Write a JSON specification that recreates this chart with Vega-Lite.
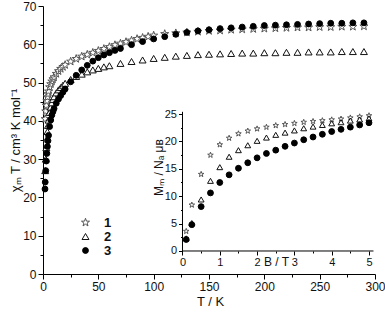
{
  "$schema": "https://vega.github.io/schema/vega-lite/v6.json",
  "width": 332,
  "height": 268,
  "autosize": {"type": "none"},
  "padding": {"left": 43, "top": 6, "right": 10, "bottom": 40},
  "config": {
    "view": {"stroke": null},
    "font": "Liberation Sans",
    "axis": {
      "grid": false,
      "domainColor": "#000",
      "tickColor": "#000",
      "labelColor": "#111",
      "titleColor": "#111",
      "labelFont": "Liberation Sans",
      "titleFont": "Liberation Sans",
      "titleFontWeight": "normal",
      "labelFlush": false,
      "labelOverlap": false
    }
  },
  "datasets": {
    "chidata": [
      {"s":"1","T":2,"v":40.5},{"s":"1","T":2.5,"v":42.5},{"s":"1","T":3,"v":44},{"s":"1","T":3.5,"v":45.2},{"s":"1","T":4,"v":46.2},{"s":"1","T":4.5,"v":47},{"s":"1","T":5,"v":47.7},{"s":"1","T":6,"v":48.8},{"s":"1","T":7,"v":49.6},{"s":"1","T":8,"v":50.3},{"s":"1","T":9,"v":50.9},{"s":"1","T":10,"v":51.4},{"s":"1","T":12,"v":52.3},{"s":"1","T":14,"v":53},{"s":"1","T":16,"v":53.6},{"s":"1","T":18,"v":54.1},{"s":"1","T":20,"v":54.6},{"s":"1","T":25,"v":55.5},{"s":"1","T":30,"v":56.2},{"s":"1","T":35,"v":56.8},{"s":"1","T":40,"v":57.3},{"s":"1","T":45,"v":57.8},{"s":"1","T":50,"v":58.3},{"s":"1","T":55,"v":58.8},{"s":"1","T":60,"v":59.3},{"s":"1","T":65,"v":59.8},{"s":"1","T":70,"v":60.2},{"s":"1","T":75,"v":60.6},{"s":"1","T":80,"v":61.0},{"s":"1","T":85,"v":61.4},{"s":"1","T":90,"v":61.7},{"s":"1","T":95,"v":62.0},{"s":"1","T":100,"v":62.3},{"s":"1","T":110,"v":62.7},{"s":"1","T":120,"v":62.9},{"s":"1","T":130,"v":63.1},{"s":"1","T":140,"v":63.3},{"s":"1","T":150,"v":63.5},{"s":"1","T":160,"v":63.6},{"s":"1","T":170,"v":63.8},{"s":"1","T":180,"v":63.9},{"s":"1","T":190,"v":64.0},{"s":"1","T":200,"v":64.1},{"s":"1","T":210,"v":64.2},{"s":"1","T":220,"v":64.3},{"s":"1","T":230,"v":64.4},{"s":"1","T":240,"v":64.4},{"s":"1","T":250,"v":64.5},{"s":"1","T":260,"v":64.5},{"s":"1","T":270,"v":64.6},{"s":"1","T":280,"v":64.6},{"s":"1","T":290,"v":64.7},
      {"s":"2","T":2,"v":27},{"s":"2","T":2.5,"v":30},{"s":"2","T":3,"v":33},{"s":"2","T":3.5,"v":35.3},{"s":"2","T":4,"v":37.2},{"s":"2","T":4.5,"v":38.8},{"s":"2","T":5,"v":40.2},{"s":"2","T":6,"v":42.2},{"s":"2","T":7,"v":43.6},{"s":"2","T":8,"v":44.7},{"s":"2","T":9,"v":45.6},{"s":"2","T":10,"v":46.3},{"s":"2","T":12,"v":47.3},{"s":"2","T":14,"v":48.1},{"s":"2","T":16,"v":48.7},{"s":"2","T":18,"v":49.3},{"s":"2","T":20,"v":49.8},{"s":"2","T":25,"v":50.8},{"s":"2","T":30,"v":51.6},{"s":"2","T":35,"v":52.2},{"s":"2","T":40,"v":52.8},{"s":"2","T":45,"v":53.3},{"s":"2","T":50,"v":53.7},{"s":"2","T":55,"v":54.1},{"s":"2","T":60,"v":54.4},{"s":"2","T":70,"v":55.0},{"s":"2","T":80,"v":55.5},{"s":"2","T":90,"v":55.9},{"s":"2","T":100,"v":56.3},{"s":"2","T":110,"v":56.6},{"s":"2","T":120,"v":56.9},{"s":"2","T":130,"v":57.1},{"s":"2","T":140,"v":57.3},{"s":"2","T":150,"v":57.4},{"s":"2","T":160,"v":57.5},{"s":"2","T":170,"v":57.6},{"s":"2","T":180,"v":57.7},{"s":"2","T":190,"v":57.7},{"s":"2","T":200,"v":57.8},{"s":"2","T":210,"v":57.8},{"s":"2","T":220,"v":57.9},{"s":"2","T":230,"v":57.9},{"s":"2","T":240,"v":58.0},{"s":"2","T":250,"v":58.0},{"s":"2","T":260,"v":58.0},{"s":"2","T":270,"v":58.1},{"s":"2","T":280,"v":58.1},{"s":"2","T":290,"v":58.1},
      {"s":"3","T":1.8,"v":22.2},{"s":"3","T":2,"v":24},{"s":"3","T":2.5,"v":27},{"s":"3","T":3,"v":29.5},{"s":"3","T":3.5,"v":31.5},{"s":"3","T":4,"v":33.3},{"s":"3","T":4.5,"v":34.8},{"s":"3","T":5,"v":36.2},{"s":"3","T":6,"v":38.5},{"s":"3","T":7,"v":40.2},{"s":"3","T":8,"v":41.5},{"s":"3","T":9,"v":42.4},{"s":"3","T":10,"v":43.2},{"s":"3","T":12,"v":44.6},{"s":"3","T":14,"v":45.7},{"s":"3","T":16,"v":46.6},{"s":"3","T":18,"v":47.5},{"s":"3","T":20,"v":48.3},{"s":"3","T":25,"v":50.2},{"s":"3","T":30,"v":51.9},{"s":"3","T":35,"v":53.3},{"s":"3","T":40,"v":54.5},{"s":"3","T":45,"v":55.6},{"s":"3","T":50,"v":56.5},{"s":"3","T":55,"v":57.2},{"s":"3","T":60,"v":57.8},{"s":"3","T":65,"v":58.4},{"s":"3","T":70,"v":58.9},{"s":"3","T":80,"v":59.9},{"s":"3","T":90,"v":60.7},{"s":"3","T":100,"v":61.4},{"s":"3","T":110,"v":62.0},{"s":"3","T":120,"v":62.6},{"s":"3","T":130,"v":63.1},{"s":"3","T":140,"v":63.5},{"s":"3","T":150,"v":63.8},{"s":"3","T":160,"v":64.1},{"s":"3","T":170,"v":64.3},{"s":"3","T":180,"v":64.5},{"s":"3","T":190,"v":64.7},{"s":"3","T":200,"v":64.9},{"s":"3","T":210,"v":65.0},{"s":"3","T":220,"v":65.1},{"s":"3","T":230,"v":65.2},{"s":"3","T":240,"v":65.3},{"s":"3","T":250,"v":65.4},{"s":"3","T":260,"v":65.5},{"s":"3","T":270,"v":65.5},{"s":"3","T":280,"v":65.6},{"s":"3","T":290,"v":65.6}
    ],
    "magdata": [
      {"s":"1","B":0.1,"M":3.6},{"s":"1","B":0.25,"M":8.4},{"s":"1","B":0.5,"M":14.0},{"s":"1","B":0.75,"M":17.5},{"s":"1","B":1.0,"M":19.4},{"s":"1","B":1.25,"M":20.6},{"s":"1","B":1.5,"M":21.4},{"s":"1","B":1.75,"M":21.9},{"s":"1","B":2.0,"M":22.3},{"s":"1","B":2.25,"M":22.6},{"s":"1","B":2.5,"M":22.9},{"s":"1","B":2.75,"M":23.1},{"s":"1","B":3.0,"M":23.3},{"s":"1","B":3.25,"M":23.5},{"s":"1","B":3.5,"M":23.65},{"s":"1","B":3.75,"M":23.8},{"s":"1","B":4.0,"M":23.95},{"s":"1","B":4.25,"M":24.1},{"s":"1","B":4.5,"M":24.3},{"s":"1","B":4.75,"M":24.5},{"s":"1","B":5.0,"M":24.7},
      {"s":"2","B":0.1,"M":2.3},{"s":"2","B":0.25,"M":5.1},{"s":"2","B":0.5,"M":9.4},{"s":"2","B":0.75,"M":12.8},{"s":"2","B":1.0,"M":15.3},{"s":"2","B":1.25,"M":17.2},{"s":"2","B":1.5,"M":18.4},{"s":"2","B":1.75,"M":19.3},{"s":"2","B":2.0,"M":20.1},{"s":"2","B":2.25,"M":20.7},{"s":"2","B":2.5,"M":21.2},{"s":"2","B":2.75,"M":21.6},{"s":"2","B":3.0,"M":22.0},{"s":"2","B":3.25,"M":22.4},{"s":"2","B":3.5,"M":22.7},{"s":"2","B":3.75,"M":23.0},{"s":"2","B":4.0,"M":23.3},{"s":"2","B":4.25,"M":23.5},{"s":"2","B":4.5,"M":23.8},{"s":"2","B":4.75,"M":24.0},{"s":"2","B":5.0,"M":24.2},
      {"s":"3","B":0.1,"M":2.1},{"s":"3","B":0.25,"M":4.8},{"s":"3","B":0.5,"M":8.1},{"s":"3","B":0.75,"M":10.6},{"s":"3","B":1.0,"M":12.5},{"s":"3","B":1.25,"M":13.9},{"s":"3","B":1.5,"M":15.1},{"s":"3","B":1.75,"M":16.1},{"s":"3","B":2.0,"M":17.0},{"s":"3","B":2.25,"M":17.8},{"s":"3","B":2.5,"M":18.4},{"s":"3","B":2.75,"M":19.1},{"s":"3","B":3.0,"M":19.7},{"s":"3","B":3.25,"M":20.3},{"s":"3","B":3.5,"M":20.8},{"s":"3","B":3.75,"M":21.3},{"s":"3","B":4.0,"M":21.8},{"s":"3","B":4.25,"M":22.2},{"s":"3","B":4.5,"M":22.6},{"s":"3","B":4.75,"M":23.0},{"s":"3","B":5.0,"M":23.4}
    ]
  },
  "layer": [
    {
      "data": {"name": "chidata"},
      "mark": {"type": "point", "filled": true, "opacity": 1, "strokeWidth": 1},
      "encoding": {
        "x": {"field": "T", "type": "quantitative",
          "scale": {"domain": [0, 300], "nice": false, "zero": false},
          "axis": {"orient": "bottom", "values": [0,25,50,75,100,125,150,175,200,225,250,275,300],
            "labelExpr": "datum.value % 50 === 0 ? datum.label : ''",
            "tickSize": {"condition": {"test": "datum.value % 50 === 0", "value": 5}, "value": 3},
            "labelPadding": 2, "labelFontSize": 12,
            "title": "T / K", "titleFontSize": 13, "titleX": 167, "titleY": 27, "titleBaseline": "middle", "titleAlign": "center"}},
        "y": {"field": "v", "type": "quantitative",
          "scale": {"domain": [0, 70], "nice": false, "zero": false},
          "axis": {"orient": "left", "values": [0,5,10,15,20,25,30,35,40,45,50,55,60,65,70],
            "labelExpr": "datum.value % 10 === 0 ? datum.label : ''",
            "tickSize": {"condition": {"test": "datum.value % 10 === 0", "value": 5}, "value": 3},
            "labelPadding": 2, "labelFontSize": 12,
            "title": "χₘ T / cm³ K mol⁻¹", "titleFontSize": 13, "titleX": -28, "titleY": 134, "titleAngle": 270, "titleBaseline": "middle", "titleAlign": "center"}},
        "shape": {"field": "s", "type": "nominal",
          "scale": {"domain": ["1","2","3"], "range": ["M0,-1L0.235,-0.324L0.951,-0.309L0.38,0.124L0.588,0.809L0,0.4L-0.588,0.809L-0.38,0.124L-0.951,-0.309L-0.235,-0.324Z","triangle-up","circle"]},
          "legend": {"orient": "none", "legendX": 36, "legendY": 210, "title": null,
            "labelFontSize": 13, "labelFontWeight": "bold", "labelFont": "Liberation Sans", "labelColor": "#111",
            "labelOffset": 12, "rowPadding": 0, "symbolStrokeWidth": 1}},
        "stroke": {"field": "s", "type": "nominal", "scale": {"domain": ["1","2","3"], "range": ["#555","#111","#000"]}},
        "fill": {"field": "s", "type": "nominal", "scale": {"domain": ["1","2","3"], "range": ["#fff","#fff","#000"]}},
        "size": {"field": "s", "type": "nominal", "scale": {"type": "ordinal", "domain": ["1","2","3"], "range": [72,48,34]}}
      }
    },
    {
      "data": {"name": "magdata"},
      "mark": {"type": "point", "filled": true, "opacity": 1, "strokeWidth": 1, "size": 34},
      "encoding": {
        "x": {"field": "B", "type": "quantitative",
          "scale": {"domain": [-3.74, 5.161], "nice": false, "zero": false},
          "axis": {"orient": "bottom", "offset": -23, "domain": false,
            "values": [0,0.5,1,1.5,2,2.5,3,3.5,4,4.5,5],
            "labelExpr": "datum.value % 1 === 0 ? datum.label : ''",
            "tickSize": {"condition": {"test": "datum.value % 1 === 0", "value": 4}, "value": 2},
            "labelPadding": 1, "labelFontSize": 11,
            "title": "B / T", "titleFontSize": 12, "titleX": 233, "titleY": 10, "titleBaseline": "middle", "titleAlign": "center"}},
        "y": {"field": "M", "type": "quantitative",
          "scale": {"domain": [-4.2, 44.71], "nice": false, "zero": false},
          "axis": {"orient": "left", "offset": -139.5, "domain": false,
            "values": [0,2.5,5,7.5,10,12.5,15,17.5,20,22.5,25],
            "labelExpr": "datum.value % 5 === 0 ? datum.label : ''",
            "tickSize": {"condition": {"test": "datum.value % 5 === 0", "value": 4}, "value": 2},
            "labelPadding": 2, "labelFontSize": 11,
            "title": "Mₘ / Nₐ μʙ", "titleFontSize": 12, "titleX": -24, "titleY": 161, "titleAngle": 270, "titleBaseline": "middle", "titleAlign": "center"}},
        "shape": {"field": "s", "type": "nominal"},
        "stroke": {"field": "s", "type": "nominal"},
        "fill": {"field": "s", "type": "nominal"}
      }
    },
    {
      "data": {"values": [{"k": 1}]},
      "mark": {"type": "rule", "color": "#000", "strokeWidth": 1},
      "encoding": {
        "x": {"datum": 0, "type": "quantitative", "scale": {"domain": [-3.74, 5.161], "nice": false, "zero": false}, "axis": null},
        "y": {"datum": 0, "type": "quantitative", "scale": {"domain": [-4.2, 44.71], "nice": false, "zero": false}, "axis": null},
        "y2": {"datum": 25.4}
      }
    },
    {
      "data": {"values": [{"k": 1}]},
      "mark": {"type": "rule", "color": "#000", "strokeWidth": 1},
      "encoding": {
        "x": {"datum": 0, "type": "quantitative", "scale": {"domain": [-3.74, 5.161], "nice": false, "zero": false}, "axis": null},
        "x2": {"datum": 5.12},
        "y": {"datum": 0, "type": "quantitative", "scale": {"domain": [-4.2, 44.71], "nice": false, "zero": false}, "axis": null}
      }
    }
  ],
  "resolve": {"scale": {"x": "independent", "y": "independent"}, "axis": {"x": "independent", "y": "independent"}}
}
